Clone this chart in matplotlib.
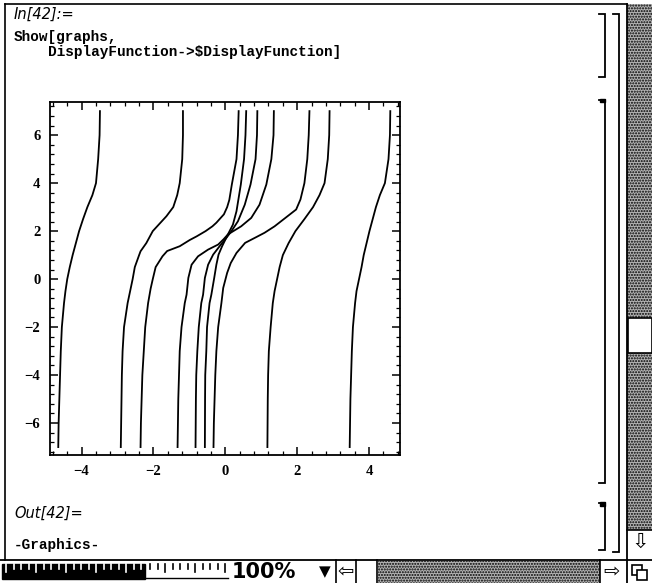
import numpy as np
import matplotlib
matplotlib.use("Agg")
import matplotlib.pyplot as plt
from matplotlib.patches import Rectangle
from matplotlib.ticker import MultipleLocator

W, H = 652, 583

# curves (x, y pairs), left to right by their top end
c1_x = [-4.65, -4.64, -4.62, -4.60, -4.58, -4.55, -4.49, -4.45, -4.40, -4.33, -4.25, -4.16, -4.07, -3.96, -3.84, -3.70, -3.60, -3.54, -3.50, -3.49]
c1_y = [-7, -6, -5, -4, -3, -2, -1, -0.5, 0, 0.5, 1, 1.5, 2, 2.5, 3, 3.5, 4, 5, 6, 7]

c2_x = [-2.91, -2.90, -2.89, -2.88, -2.86, -2.82, -2.72, -2.65, -2.58, -2.52, -2.40, -2.36, -2.20, -2.02, -1.64, -1.45, -1.34, -1.27, -1.20, -1.18, -1.18]
c2_y = [-7, -6, -5, -4, -3, -2, -1, -0.5, 0, 0.5, 1, 1.16, 1.5, 2, 2.62, 3, 3.5, 4, 5, 6, 7]

c3_x = [-2.36, -2.35, -2.33, -2.31, -2.27, -2.23, -2.15, -2.08, -2.02, -1.94, -1.75, -1.62, -1.27, -0.99, -0.80, -0.55, -0.36, -0.25, -0.04, 0.05, 0.11, 0.18, 0.31, 0.35, 0.37]
c3_y = [-7, -6, -5, -4, -3, -2, -1, -0.4, 0, 0.5, 0.95, 1.17, 1.37, 1.63, 1.78, 2.0, 2.2, 2.35, 2.7, 3.0, 3.3, 3.94, 5, 6, 7]

n_x = [-0.57, -0.565, -0.56, -0.53, -0.51, -0.44, -0.39, -0.31, -0.25, -0.19, -0.09, 0.07, 0.21, 0.31, 0.43, 0.52, 0.56, 0.58]
n_y = [-7, -5, -4, -3, -2, -1, -0.65, 0.05, 0.6, 1.02, 1.37, 1.86, 2.27, 2.83, 3.94, 5, 6, 7]

m_x = [-0.83, -0.82, -0.81, -0.78, -0.74, -0.67, -0.62, -0.57, -0.48, -0.34, -0.16, 0.03, 0.17, 0.35, 0.54, 0.70, 0.84, 0.88, 0.89]
m_y = [-7, -5, -4, -3, -2, -1, -0.65, 0.05, 0.6, 1.02, 1.37, 1.72, 2.0, 2.41, 3.1, 3.94, 5, 6, 7]

w_x = [-1.33, -1.31, -1.29, -1.27, -1.22, -1.13, -1.08, -1.03, -0.94, -0.76, -0.48, -0.20, -0.05, 0.07, 0.44, 0.72, 0.95, 1.14, 1.28, 1.34, 1.35]
w_y = [-7, -5, -4, -3, -2, -1, -0.65, 0.05, 0.6, 0.95, 1.23, 1.44, 1.66, 1.86, 2.2, 2.55, 3.1, 3.94, 5, 6, 7]

c8_x = [-0.33, -0.32, -0.30, -0.28, -0.25, -0.20, -0.11, -0.06, 0.05, 0.15, 0.31, 0.55, 0.86, 1.09, 1.37, 1.67, 1.97, 2.09, 2.20, 2.28, 2.32, 2.34]
c8_y = [-7, -6, -5, -4, -3, -2, -1, -0.37, 0.26, 0.67, 1.09, 1.51, 1.75, 1.93, 2.2, 2.55, 2.9, 3.32, 4, 5, 6, 7]

c7_x = [1.17, 1.18, 1.19, 1.21, 1.26, 1.32, 1.37, 1.44, 1.51, 1.60, 1.76, 1.95, 2.20, 2.44, 2.62, 2.76, 2.85, 2.89, 2.90]
c7_y = [-7, -5, -4, -3, -2, -1, -0.5, 0, 0.5, 1, 1.5, 2, 2.5, 3, 3.5, 4, 5, 6, 7]

c9_x = [3.46, 3.48, 3.50, 3.52, 3.55, 3.61, 3.65, 3.72, 3.79, 3.85, 3.93, 4.01, 4.10, 4.19, 4.30, 4.44, 4.54, 4.58, 4.59]
c9_y = [-7, -5, -4, -3, -2, -1, -0.5, 0, 0.5, 1, 1.5, 2, 2.5, 3, 3.5, 4, 5, 6, 7]

curves = [(c1_x, c1_y), (c2_x, c2_y), (c3_x, c3_y), (n_x, n_y), (m_x, m_y),
          (w_x, w_y), (c8_x, c8_y), (c7_x, c7_y), (c9_x, c9_y)]

x_ticks = [-4, -2, 0, 2, 4]
y_ticks = [-6, -4, -2, 0, 2, 4, 6]

code_font = dict(family="Liberation Mono", weight="bold", size=10.4)
label_font = dict(family="Liberation Sans Narrow", style="italic", size=10.5)

fig = plt.figure(figsize=(W / 100, H / 100), dpi=100)

# notebook window drawn in pixel coordinates
ui = fig.add_axes([0, 0, 1, 1])
ui.set_xlim(0, W)
ui.set_ylim(H, 0)
ui.axis("off")

# window border
ui.plot([5, 627], [4, 4], color="black", lw=1.2)
ui.plot([5, 5], [4, 560], color="black", lw=1.2)

# cell text
ui.text(14, 14, "In[42]:=", va="center", ha="left", **label_font)
ui.text(14, 37, "Show[graphs,", va="center", ha="left", **code_font)
ui.text(48, 52, "DisplayFunction->$DisplayFunction]", va="center", ha="left", **code_font)
ui.text(14, 513, "Out[42]=", va="center", ha="left", **label_font)
ui.text(14, 545, "-Graphics-", va="center", ha="left", **code_font)

# cell brackets
def bracket(x, y0, y1, hook=6, lw=1.3):
    ui.plot([x - hook, x, x, x - hook], [y0, y0, y1, y1], color="black", lw=lw,
            solid_joinstyle="miter")

bracket(605, 14, 77)
bracket(605, 100, 483)
bracket(605, 503, 550)
bracket(619, 14, 552)
ui.add_patch(Rectangle((600, 99), 5, 3, color="black"))
ui.add_patch(Rectangle((600, 502), 5, 4, color="black"))

# scroll bar
ui.add_patch(Rectangle((627, 4), 25, 526, facecolor="#b4b4b4", edgecolor="black",
                       hatch="......", lw=0))
ui.plot([627, 627], [4, H], color="black", lw=1.3)
ui.add_patch(Rectangle((628, 318), 24, 35, facecolor="white", edgecolor="black", lw=1.2))
ui.plot([627, W], [530, 530], color="black", lw=1.2)
ui.text(640, 542, "\u21e9", ha="center", va="center", fontsize=15, family="DejaVu Sans")

# bottom bar
bar_top = 560
ui.plot([0, W], [bar_top, bar_top], color="black", lw=1.3)
ui.add_patch(Rectangle((2, bar_top + 4), 143, 15, color="black"))
for i, tx in enumerate(np.arange(6, 145, 7.5)):
    ui.plot([tx, tx], [bar_top + 4, bar_top + (12 if i % 4 == 0 else 9)], color="white", lw=1.2)
for i, tx in enumerate(np.arange(150, 228, 7.5)):
    ui.plot([tx, tx], [bar_top + 4, bar_top + (12 if i % 4 == 2 else 9)], color="black", lw=1.2)
ui.plot([145, 228], [bar_top + 18, bar_top + 18], color="black", lw=1)
ui.text(232, bar_top + 12, "100%", ha="left", va="center", fontsize=15, weight="bold",
        family="Liberation Sans Narrow")
ui.text(325, bar_top + 12, "\u25bc", ha="center", va="center", fontsize=11, family="DejaVu Sans")
ui.plot([336, 336], [bar_top, H], color="black", lw=1.2)
ui.text(346, bar_top + 12, "\u21e6", ha="center", va="center", fontsize=14, family="DejaVu Sans")
ui.plot([356, 356], [bar_top, H], color="black", lw=1.2)
ui.plot([377, 377], [bar_top, H], color="black", lw=1.2)
ui.add_patch(Rectangle((378, bar_top + 1), 222, H - bar_top, facecolor="#b4b4b4",
                       edgecolor="black", hatch="......", lw=0))
ui.plot([600, 600], [bar_top, H], color="black", lw=1.2)
ui.text(612, bar_top + 12, "\u21e8", ha="center", va="center", fontsize=14, family="DejaVu Sans")
ui.add_patch(Rectangle((632, bar_top + 5), 10, 10, facecolor="white", edgecolor="black", lw=1.2))
ui.add_patch(Rectangle((637, bar_top + 10), 10, 10, facecolor="white", edgecolor="black", lw=1.2))

# the graphics itself
ax = fig.add_axes([50 / W, (H - 455) / H, 350 / W, 353 / H])
for cx, cy in curves:
    ax.plot(cx, cy, color="black", lw=1.3)

ax.set_xlim(-4.88, 4.86)
ax.set_ylim(-7.33, 7.38)
ax.set_xticks(x_ticks)
ax.set_yticks(y_ticks)
ax.set_xticklabels([str(v).replace("-", "\u2212") for v in x_ticks])
ax.set_yticklabels([str(v).replace("-", "\u2212") for v in y_ticks])
ax.xaxis.set_minor_locator(MultipleLocator(0.4))
ax.yaxis.set_minor_locator(MultipleLocator(0.4))
ax.tick_params(which="both", direction="in", top=True, right=True, color="black")
ax.tick_params(which="major", length=6, width=1.1, pad=7)
ax.tick_params(which="minor", length=3, width=0.9)
for lab in ax.get_xticklabels() + ax.get_yticklabels():
    lab.set_family("Liberation Serif")
    lab.set_weight("bold")
    lab.set_fontsize(10.5)
for sp in ax.spines.values():
    sp.set_linewidth(1.3)

fig.savefig("out.png", dpi=100)
